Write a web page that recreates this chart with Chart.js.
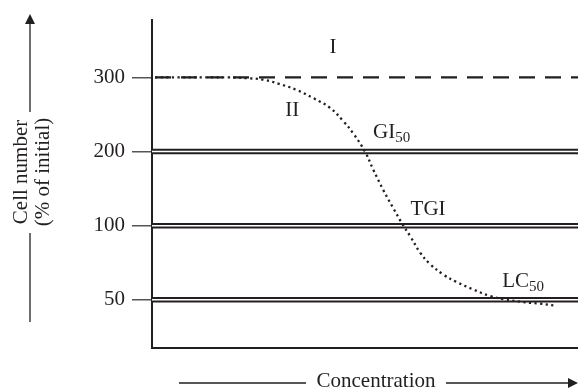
<!DOCTYPE html>
<html>
<head>
<meta charset="utf-8">
<script src="https://cdn.jsdelivr.net/npm/chart.js@4"></script>
<style>
  html, body { margin: 0; padding: 0; background: #fff; }
  #wrap { width: 578px; height: 390px; }
</style>
</head>
<body>
<div id="wrap"><canvas id="graficoCurva"></canvas></div>
<script>
const yTicks = [50, 100, 200, 300];
const controlLevel = 300;
const refLevels = [200, 100, 50];
const concentration = [0.07, 1.8, 2.22, 2.61, 3.0, 3.4, 3.79, 4.18, 4.49, 4.73, 5.0, 5.19, 5.43, 5.66, 5.9, 6.06, 6.29, 6.53, 6.84, 7.15, 7.54, 7.93, 8.25, 8.72, 9.11, 9.5];
const cellNumber = [300, 300, 299, 297, 291, 283, 272, 259, 241, 224, 200, 176, 148, 124, 100, 93, 82, 74, 67, 62, 57, 52.6, 50.5, 48.4, 47.4, 46];
const xRange = [0, 10];

const INK = "#231f20";
const SERIF = "'Liberation Serif', 'Times New Roman', serif";

// schematic y axis: every tick level gets the same spacing
function toPos(v) {
  if (v <= yTicks[0]) return 1 - (yTicks[0] - v) / yTicks[0];
  for (let i = 1; i < yTicks.length; i++) {
    if (v <= yTicks[i]) return i + (v - yTicks[i - 1]) / (yTicks[i] - yTicks[i - 1]);
  }
  const n = yTicks.length;
  return n + (v - yTicks[n - 1]) / (yTicks[n - 1] - yTicks[n - 2]);
}

// lower "order" is drawn on top
const datasets = [];
datasets.push({
  data: concentration.map((c, i) => ({ x: c, y: toPos(cellNumber[i]) })),
  borderColor: INK,
  borderWidth: 2.3,
  borderDash: [2.2, 3.4],
  tension: 0.4,
  pointRadius: 0,
  order: 0,
});
datasets.push({
  data: xRange.map((x) => ({ x: x, y: toPos(controlLevel) })),
  borderColor: INK,
  borderWidth: 2.2,
  borderDash: [16, 10],
  borderDashOffset: 23,
  pointRadius: 0,
  order: 1,
});
refLevels.forEach((lvl) => {
  const pts = xRange.map((x) => ({ x: x, y: toPos(lvl) }));
  datasets.push({ data: pts, borderColor: "#fff", borderWidth: 1.4, pointRadius: 0, order: 2 });
  datasets.push({ data: pts, borderColor: INK, borderWidth: 5.6, pointRadius: 0, order: 3 });
});

function drawLabel(ctx, txt, sub, px, py, align) {
  ctx.font = "21px " + SERIF;
  const w1 = ctx.measureText(txt).width;
  ctx.font = "15px " + SERIF;
  const w2 = sub ? ctx.measureText(sub).width : 0;
  const left = align === "center" ? px - (w1 + w2) / 2 : px;
  ctx.textAlign = "left";
  ctx.font = "21px " + SERIF;
  ctx.fillText(txt, left, py);
  if (sub) {
    ctx.font = "15px " + SERIF;
    ctx.fillText(sub, left + w1, py + 6);
  }
}

const etiquetas = {
  id: "etiquetas",
  afterDatasetsDraw(chart) {
    const { ctx, scales: { x, y } } = chart;
    ctx.save();
    ctx.fillStyle = INK;
    ctx.textBaseline = "middle";
    drawLabel(ctx, "I", "", x.getPixelForValue(4.25), y.getPixelForValue(4.4), "center");
    drawLabel(ctx, "II", "", x.getPixelForValue(3.29), y.getPixelForValue(3.55), "center");
    drawLabel(ctx, "GI", "50", x.getPixelForValue(5.19), y.getPixelForValue(3.26), "left");
    drawLabel(ctx, "TGI", "", x.getPixelForValue(6.48), y.getPixelForValue(2.22), "center");
    drawLabel(ctx, "LC", "50", x.getPixelForValue(8.22), y.getPixelForValue(1.25), "left");
    ctx.restore();
  },
};

const flechas = {
  id: "flechas",
  afterDraw(chart) {
    const ctx = chart.ctx;
    ctx.save();
    ctx.strokeStyle = INK;
    ctx.fillStyle = INK;
    ctx.lineWidth = 1.3;
    // y axis title with arrow
    ctx.beginPath();
    ctx.moveTo(30, 20); ctx.lineTo(30, 112);
    ctx.moveTo(30, 233); ctx.lineTo(30, 322);
    ctx.stroke();
    ctx.beginPath();
    ctx.moveTo(30, 14); ctx.lineTo(25, 24); ctx.lineTo(35, 24); ctx.closePath();
    ctx.fill();
    ctx.font = "21px " + SERIF;
    ctx.textAlign = "center";
    ctx.textBaseline = "middle";
    ctx.save();
    ctx.translate(21, 172);
    ctx.rotate(-Math.PI / 2);
    ctx.fillText("Cell number", 0, 0);
    ctx.fillText("(% of initial)", 0, 22);
    ctx.restore();
    // x axis title with arrow
    ctx.beginPath();
    ctx.moveTo(179, 383); ctx.lineTo(306, 383);
    ctx.moveTo(446, 383); ctx.lineTo(570, 383);
    ctx.stroke();
    ctx.beginPath();
    ctx.moveTo(578, 383); ctx.lineTo(568, 378); ctx.lineTo(568, 388); ctx.closePath();
    ctx.fill();
    ctx.fillText("Concentration", 376, 381);
    ctx.restore();
  },
};

new Chart(document.getElementById("graficoCurva"), {
  type: "line",
  data: { datasets: datasets },
  options: {
    responsive: true,
    maintainAspectRatio: false,
    animation: false,
    layout: { padding: { top: 14, left: 0, right: 0, bottom: 42 } },
    plugins: { legend: { display: false }, tooltip: { enabled: false } },
    scales: {
      x: {
        type: "linear",
        min: xRange[0],
        max: xRange[1],
        ticks: { display: false },
        grid: { display: false, drawTicks: false },
        border: { display: true, color: INK, width: 2 },
        afterFit: (scale) => { scale.height = 0; },
      },
      y: {
        type: "linear",
        min: 0.35,
        max: 4.78,
        z: 1,
        afterBuildTicks: (scale) => {
          scale.ticks = yTicks.map((v) => ({ value: toPos(v) }));
        },
        afterFit: (scale) => { scale.width = 152; },
        ticks: {
          autoSkip: false,
          padding: 7,
          color: INK,
          font: { family: SERIF, size: 21 },
          callback: (value, index) => String(yTicks[index]),
        },
        grid: { drawOnChartArea: false, drawTicks: true, tickLength: 20, color: "#555", lineWidth: 1.5 },
        border: { display: true, color: INK, width: 2 },
      },
    },
  },
  plugins: [etiquetas, flechas],
});
</script>
</body>
</html>
